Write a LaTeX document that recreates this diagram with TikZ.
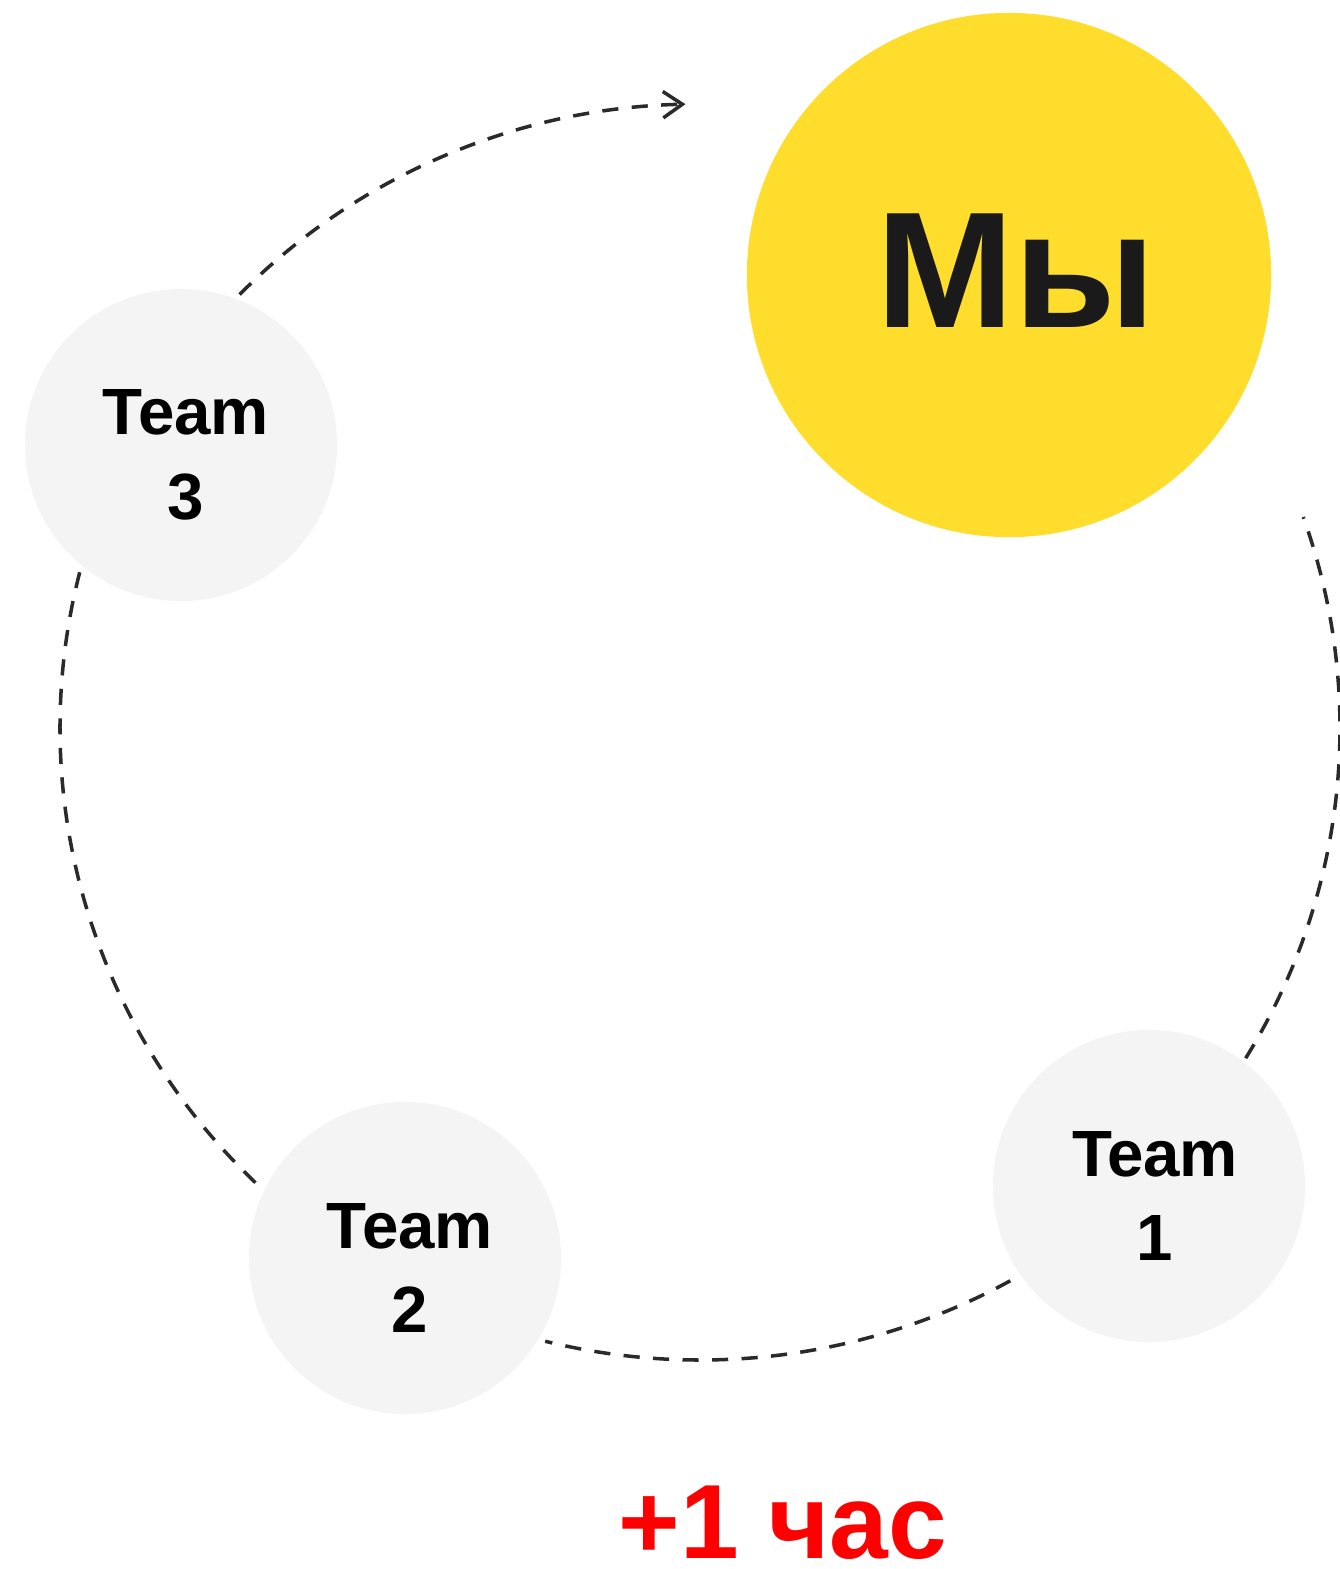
\documentclass[tikz,border=0pt]{standalone}
\usepackage{fontspec}
\setmainfont{Liberation Sans}
\usetikzlibrary{arrows.meta,calc}
\definecolor{meyellow}{HTML}{FEDD2C}
\definecolor{teamgray}{HTML}{F4F4F4}
\definecolor{linkgray}{HTML}{2A2A2A}
\definecolor{ink}{HTML}{1A1A1A}
\begin{document}
\begin{tikzpicture}[x=0.01cm, y=-0.01cm, >={Straight Barb[length=5.5pt,width=7.5pt]}]
  \tikzset{
    team/.style={circle, fill=teamgray, minimum size=3.12cm, inner sep=0pt},
    teamtext/.style={align=center, inner sep=0pt, font=\fontsize{18.6}{24}\selectfont\bfseries, text=black},
    link/.style={draw=linkgray, line width=1pt, dash pattern=on 4.6pt off 3.8pt},
  }
  \useasboundingbox (0,0) rectangle (1340,1569);
  % dashed ring (centre of the loop)
  \coordinate (ring) at (700,728);
  \coordinate (t3out) at ($(ring)+(136:640 and -624)$);
  \coordinate (t1out) at ($(ring)+(-31.5:640 and -632)$);
  \coordinate (t2in) at ($(ring)+(-61:640 and -632)$);
  \coordinate (t3in) at ($(ring)+(-134:640 and -632)$);
  \draw[link,->] (t3out) arc[start angle=136, end angle=91.3, x radius=640, y radius=-624];
  \draw[link] (t1out) arc[start angle=-31.5, end angle=19.5, x radius=640, y radius=-632];
  \draw[link] (t2in) arc[start angle=-61, end angle=-104, x radius=640, y radius=-632];
  \draw[link] (t3in) arc[start angle=-134, end angle=-195, x radius=640, y radius=-632];
  % circles
  \node[circle, fill=meyellow, minimum size=5.24cm, inner sep=0pt] (me) at (1009,275) {};
  \node[team] (t3) at (181,445) {};
  \node[team] (t2) at (405,1258) {};
  \node[team] (t1) at (1149,1186) {};
  % texts
  \node[inner sep=0pt, text=ink, font=\fontsize{47}{50}\selectfont\bfseries]
    (metext) at ([shift={(7,-4)}]me.center) {Мы};
  \node[teamtext] (t3text) at ([shift={(5,10)}]t3.center) {Team\\3};
  \node[teamtext] (t2text) at ([shift={(5,10)}]t2.center) {Team\\2};
  \node[teamtext] (t1text) at ([shift={(6,10)}]t1.center) {Team\\1};
  \node[anchor=base, text=red, inner sep=0pt, font=\fontsize{30}{34}\selectfont\bfseries]
    (hour) at (783,1558) {+1 час};
\end{tikzpicture}
\end{document}
